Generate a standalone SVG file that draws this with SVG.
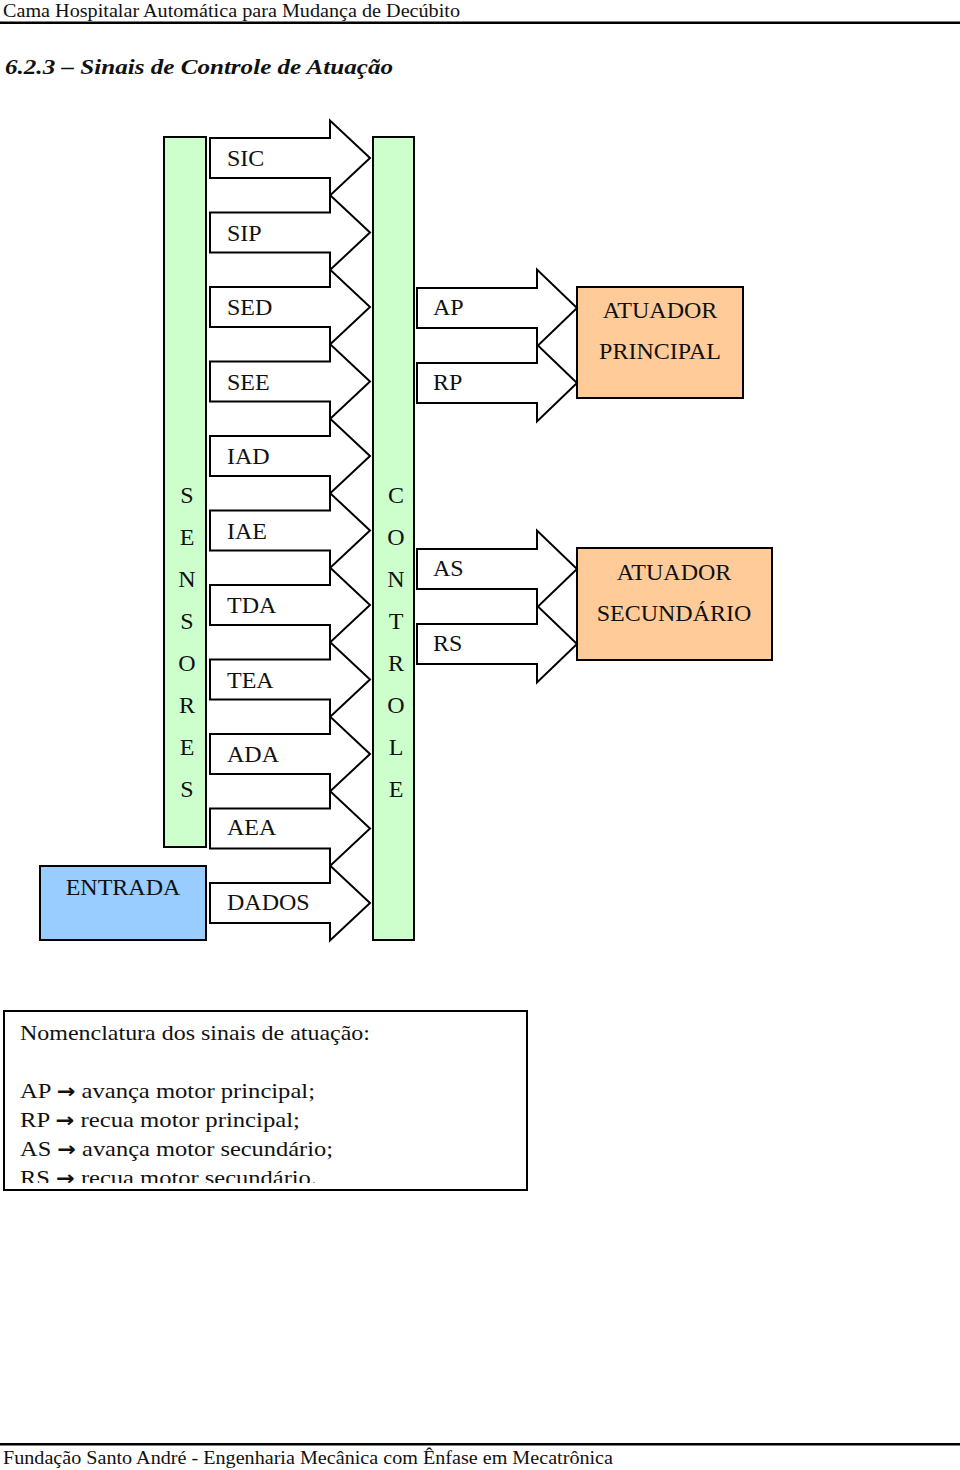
<svg xmlns="http://www.w3.org/2000/svg" width="960" height="1470" viewBox="0 0 960 1470">
<defs>
<style>
.t{font-family:"Liberation Serif","Times New Roman",serif;fill:#111;}
.lbl{font-size:24px;}
.arr{fill:#fff;stroke:#000;stroke-width:2;stroke-linejoin:miter;}
.bar{fill:#ccffcc;stroke:#000;stroke-width:2;}
.act{fill:#ffcc99;stroke:#000;stroke-width:2;}
.ent{fill:#99ccff;stroke:#000;stroke-width:2;}
.mid{text-anchor:middle;}
</style>
<path id="la" d="M210,-20 L330,-20 L330,-37.5 L370,0 L330,37.5 L330,20 L210,20 Z"/>
<path id="ra" d="M417,-20 L537,-20 L537,-38.5 L577,0 L537,38.5 L537,20 L417,20 Z"/>
<clipPath id="legclip"><rect x="5" y="1012" width="521" height="171"/></clipPath>
</defs>
<rect width="960" height="1470" fill="#fff"/>

<g id="header">
<text class="t" x="3" y="17" font-size="18" textLength="457" lengthAdjust="spacingAndGlyphs">Cama Hospitalar Automática para Mudança de Decúbito</text>
<rect x="0" y="21.5" width="960" height="2.5" fill="#000"/>
<text class="t" x="5" y="74" font-size="22" font-weight="bold" font-style="italic" textLength="388" lengthAdjust="spacingAndGlyphs">6.2.3 – Sinais de Controle de Atuação</text>
</g>

<g id="sensores">
<rect class="bar" x="164" y="137" width="42" height="710"/>
<g class="t lbl mid">
<text x="187" y="503">S</text><text x="187" y="545">E</text><text x="187" y="587">N</text><text x="187" y="629">S</text>
<text x="187" y="671">O</text><text x="187" y="713">R</text><text x="187" y="755">E</text><text x="187" y="797">S</text>
</g>
</g>

<g id="controle">
<rect class="bar" x="373" y="137" width="41" height="803"/>
<g class="t lbl mid">
<text x="396" y="503">C</text><text x="396" y="545">O</text><text x="396" y="587">N</text><text x="396" y="629">T</text>
<text x="396" y="671">R</text><text x="396" y="713">O</text><text x="396" y="755">L</text><text x="396" y="797">E</text>
</g>
</g>

<g id="entrada">
<rect class="ent" x="40" y="866" width="166" height="74"/>
<text class="t lbl mid" x="123" y="895">ENTRADA</text>
</g>

<g id="atuador-principal">
<rect class="act" x="577" y="287" width="166" height="111"/>
<text class="t lbl mid" x="660" y="318">ATUADOR</text>
<text class="t lbl mid" x="660" y="359">PRINCIPAL</text>
</g>

<g id="atuador-secundario">
<rect class="act" x="577" y="548" width="195" height="112"/>
<text class="t lbl mid" x="674" y="580">ATUADOR</text>
<text class="t lbl mid" x="674" y="621">SECUNDÁRIO</text>
</g>

<g id="connectors">
<use href="#la" class="arr" transform="translate(0,158)"/>
<use href="#la" class="arr" transform="translate(0,232.5)"/>
<use href="#la" class="arr" transform="translate(0,307)"/>
<use href="#la" class="arr" transform="translate(0,381.5)"/>
<use href="#la" class="arr" transform="translate(0,456)"/>
<use href="#la" class="arr" transform="translate(0,530.5)"/>
<use href="#la" class="arr" transform="translate(0,605)"/>
<use href="#la" class="arr" transform="translate(0,679.5)"/>
<use href="#la" class="arr" transform="translate(0,754)"/>
<use href="#la" class="arr" transform="translate(0,828.5)"/>
<use href="#la" class="arr" transform="translate(0,903)"/>
<use href="#ra" class="arr" transform="translate(0,308)"/>
<use href="#ra" class="arr" transform="translate(0,383)"/>
<use href="#ra" class="arr" transform="translate(0,569)"/>
<use href="#ra" class="arr" transform="translate(0,644)"/>
<g class="t lbl">
<text x="227" y="166">SIC</text>
<text x="227" y="240.5">SIP</text>
<text x="227" y="315">SED</text>
<text x="227" y="389.5">SEE</text>
<text x="227" y="464">IAD</text>
<text x="227" y="538.5">IAE</text>
<text x="227" y="613">TDA</text>
<text x="227" y="687.5">TEA</text>
<text x="227" y="762">ADA</text>
<text x="227" y="835">AEA</text>
<text x="227" y="910">DADOS</text>
<text x="433" y="315">AP</text>
<text x="433" y="390">RP</text>
<text x="433" y="576">AS</text>
<text x="433" y="651">RS</text>
</g>
</g>

<g id="legenda">
<rect x="4" y="1011" width="523" height="179" fill="#fff" stroke="#000" stroke-width="2"/>
<g clip-path="url(#legclip)" class="t" font-size="22">
<text x="20" y="1040" textLength="350" lengthAdjust="spacingAndGlyphs">Nomenclatura dos sinais de atuação:</text>
<text x="20" y="1098" textLength="295" lengthAdjust="spacingAndGlyphs">AP <tspan font-family="DejaVu Sans, sans-serif" font-weight="bold" font-size="20">→</tspan> avança motor principal;</text>
<text x="20" y="1127" textLength="280" lengthAdjust="spacingAndGlyphs">RP <tspan font-family="DejaVu Sans, sans-serif" font-weight="bold" font-size="20">→</tspan> recua motor principal;</text>
<text x="20" y="1156" textLength="313" lengthAdjust="spacingAndGlyphs">AS <tspan font-family="DejaVu Sans, sans-serif" font-weight="bold" font-size="20">→</tspan> avança motor secundário;</text>
<text x="20" y="1185" textLength="297" lengthAdjust="spacingAndGlyphs">RS <tspan font-family="DejaVu Sans, sans-serif" font-weight="bold" font-size="20">→</tspan> recua motor secundário.</text>
</g>
</g>

<g id="footer">
<rect x="0" y="1443" width="960" height="2.5" fill="#000"/>
<text class="t" x="3" y="1464" font-size="19" textLength="610" lengthAdjust="spacingAndGlyphs">Fundação Santo André - Engenharia Mecânica com Ênfase em Mecatrônica</text>
</g>
</svg>
